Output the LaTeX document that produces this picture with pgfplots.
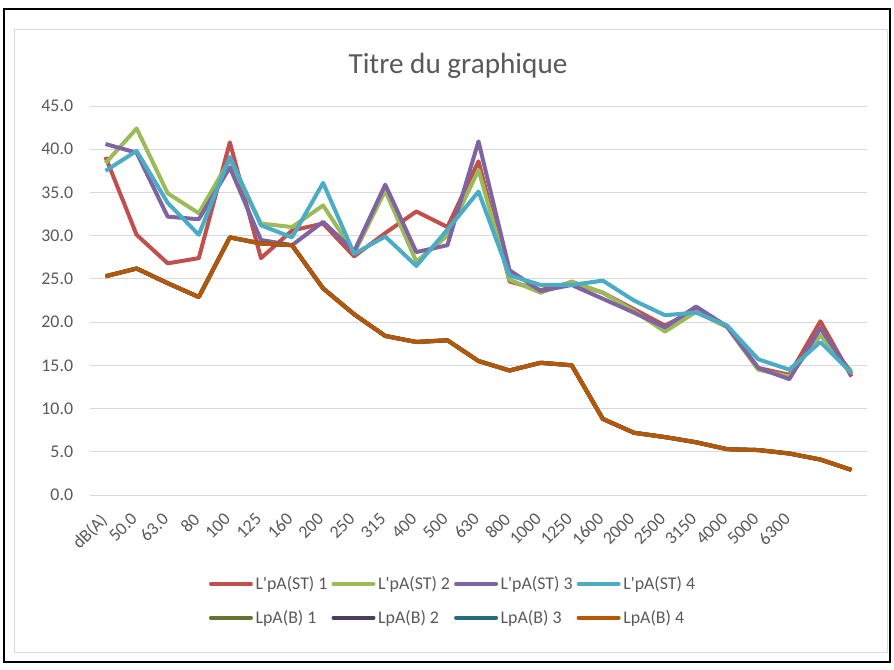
\documentclass[border=0pt]{standalone}
\usepackage{pgfplots}
\pgfplotsset{compat=1.18}
\usepackage{pgfplotstable}
\usepackage{fontspec}
\setmainfont{Carlito}[Ligatures=TeXOff]
\definecolor{cR}{HTML}{C0504D}
\definecolor{cG}{HTML}{9BBB59}
\definecolor{cP}{HTML}{8064A2}
\definecolor{cC}{HTML}{4BACC6}
\definecolor{cG2}{HTML}{5F7530}
\definecolor{cP2}{HTML}{4D3B62}
\definecolor{cC2}{HTML}{276A7C}
\definecolor{cO}{HTML}{B65708}
\definecolor{txt}{HTML}{595959}
\definecolor{grd}{HTML}{D9D9D9}
\pgfplotstableread{
i r g p c o
0 39.1 38.4 40.6 37.5 25.3
1 30.1 42.4 39.6 39.8 26.2
2 26.8 34.9 32.2 33.8 24.5
3 27.4 32.6 31.9 30.1 22.9
4 40.8 38.8 37.9 39.1 29.8
5 27.4 31.4 29.5 31.2 29.1
6 30.6 31.0 28.9 29.8 28.9
7 31.4 33.5 31.6 36.1 23.9
8 27.6 28.0 28.2 27.9 20.9
9 30.3 35.2 35.9 29.9 18.4
10 32.8 27.0 28.1 26.5 17.7
11 31.0 30.0 28.9 30.7 17.9
12 38.6 37.6 40.9 35.1 15.5
13 24.7 24.9 26.0 25.4 14.4
14 23.7 23.4 23.6 24.3 15.3
15 24.6 24.7 24.3 24.3 15.0
16 23.4 23.4 22.7 24.8 8.8
17 21.5 21.3 21.1 22.5 7.2
18 19.6 18.9 19.4 20.8 6.7
19 21.4 21.2 21.8 21.1 6.1
20 19.5 19.4 19.5 19.6 5.3
21 14.7 14.5 14.7 15.7 5.2
22 13.9 13.7 13.4 14.5 4.8
23 20.1 18.5 19.3 17.7 4.1
24 13.7 14.3 14.0 14.1 2.9
}\datatable
\begin{document}
\begin{tikzpicture}
\begin{axis}[
  scale only axis,
  width=582.75pt, height=291.75pt,
  xmin=-0.5, xmax=24.5, ymin=0, ymax=45,
  axis line style={draw=none},
  tick style={draw=none},
  ymajorgrids, grid style={grd, line width=0.75pt},
  ytick={0,5,...,45},
  /pgf/number format/assume math mode=true,
  yticklabel={\pgfmathprintnumber[fixed, fixed zerofill, precision=1]{\tick}},
  yticklabel style={text=txt, font=\fontsize{13.4pt}{15pt}\selectfont, inner sep=0pt, xshift=-12.5pt},
  xtick={0,...,22},
  xticklabels={dB(A),50.0,63.0,80,100,125,160,200,250,315,400,500,630,800,1000,1250,1600,2000,2500,3150,4000,5000,6300},
  xticklabel style={text=txt, font=\fontsize{13.4pt}{15pt}\selectfont, inner sep=0pt, xshift=-5pt, yshift=-12.5pt, rotate=45, anchor=north east},
  legend columns=4,
  legend cell align=left,
  legend style={draw=none, fill=none, at={(0.466,-0.272)}, anchor=center,
    font=\fontsize{13.4pt}{15pt}\selectfont, text=txt,
    /tikz/every even column/.append style={column sep=3pt},
    row sep=12pt,
    nodes={inner xsep=0pt, inner ysep=1pt},
  },
  legend image code/.code={\draw[#1, line cap=round] (0pt,0pt) -- (30pt,0pt);},
  every axis plot/.append style={line width=3pt, line join=round, mark=none},
]
\addplot[cR] table[x=i,y=r]{\datatable}; \addlegendentry{\hspace{2pt}L'pA(ST) 1}
\addplot[cG] table[x=i,y=g]{\datatable}; \addlegendentry{\hspace{2pt}L'pA(ST) 2}
\addplot[cP] table[x=i,y=p]{\datatable}; \addlegendentry{\hspace{2pt}L'pA(ST) 3}
\addplot[cC] table[x=i,y=c]{\datatable}; \addlegendentry{\hspace{2pt}L'pA(ST) 4}
\addplot[cG2] table[x=i,y=o]{\datatable}; \addlegendentry{\hspace{2pt}LpA(B) 1}
\addplot[cP2] table[x=i,y=o]{\datatable}; \addlegendentry{\hspace{2pt}LpA(B) 2}
\addplot[cC2] table[x=i,y=o]{\datatable}; \addlegendentry{\hspace{2pt}LpA(B) 3}
\addplot[cO] table[x=i,y=o]{\datatable}; \addlegendentry{\hspace{2pt}LpA(B) 4}
\end{axis}
\node[text=txt, font=\fontsize{21.9pt}{26pt}\selectfont] at (276pt,322pt) {Titre du graphique};
\draw[grd, line width=0.75pt] (-56.25pt,-117.75pt) rectangle (597.75pt,349.5pt);
\draw[black, line width=1.5pt] (-64.5pt,-125.25pt) rectangle (600pt,364.5pt);
\pgfresetboundingbox
\useasboundingbox (-67.5pt,-130.5pt) rectangle (603pt,371.25pt);
\end{tikzpicture}
\end{document}
